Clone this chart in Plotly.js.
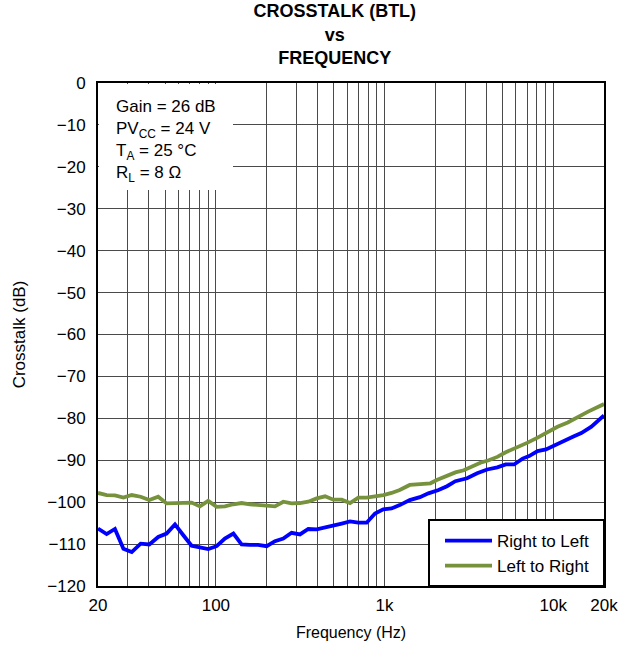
<!DOCTYPE html>
<html>
<head>
<meta charset="utf-8">
<script src="https://cdn.plot.ly/plotly-3.0.1.min.js"></script>
<style>html,body{margin:0;padding:0;background:#fff;}#chart{width:623px;height:646px;}</style>
</head>
<body>
<div id="chart"></div>
<script>
// Right to Left (blue)
const freqRL = [20, 22.5, 25.2, 28.3, 31.7, 35.8, 40.3, 45.5, 51, 57.2, 64.1, 71.8, 80.4, 90, 101, 113, 127, 142, 159, 178, 200, 224, 251, 281, 315, 353, 396, 444, 497, 557, 624, 699, 783, 878, 983, 1100, 1230, 1410, 1620, 1820, 2090, 2345, 2630, 3085, 3540, 4060, 4660, 5230, 5860, 6580, 7200, 8080, 9060, 10160, 11400, 13080, 14670, 16840, 20000];
const crosstalkRL = [-106.3, -107.6, -106.4, -111.1, -111.9, -109.9, -110.1, -108.3, -107.5, -105.3, -107.9, -110.4, -110.8, -111.2, -110.5, -108.7, -107.5, -110.1, -110.2, -110.2, -110.5, -109.3, -108.7, -107.3, -107.7, -106.4, -106.5, -106.1, -105.5, -105.1, -104.6, -104.9, -104.9, -102.7, -101.7, -101.5, -100.7, -99.5, -98.8, -97.9, -97.1, -96.2, -95.0, -94.3, -93.1, -92.2, -91.7, -91.0, -91.0, -89.6, -89.0, -87.8, -87.4, -86.4, -85.4, -84.4, -83.5, -82.0, -79.3];

// Left to Right (green)
const freqLR = [20, 22.5, 25.2, 28.3, 31.7, 35.8, 40.3, 45.5, 51, 57.2, 64.1, 71.8, 80.4, 90, 101, 113, 127, 142, 159, 178, 200, 224, 251, 281, 315, 353, 396, 444, 497, 557, 624, 699, 783, 878, 983, 1100, 1230, 1410, 1620, 1870, 2040, 2345, 2630, 2950, 3300, 3700, 4150, 4660, 5230, 6100, 7050, 8080, 9230, 10600, 12200, 14000, 16100, 20000];
const crosstalkLR = [-97.8, -98.3, -98.4, -98.9, -98.3, -98.7, -99.5, -98.7, -100.3, -100.3, -100.2, -100.1, -101.0, -99.7, -101.1, -101.0, -100.5, -100.2, -100.5, -100.7, -101.0, -101.0, -99.9, -100.3, -100.2, -99.9, -99.1, -98.6, -99.4, -99.4, -100.2, -98.9, -98.9, -98.7, -98.3, -97.8, -97.1, -95.9, -95.7, -95.5, -94.7, -93.6, -92.9, -92.4, -91.4, -90.6, -90.0, -89.2, -88.1, -87.0, -85.8, -84.6, -83.4, -82.0, -81.0, -79.6, -78.4, -76.6];

const seriesNames = ["Right to Left", "Left to Right"];

// x tick labels and grid positions
const xTickVals = [20, 100, 1000, 10000, 20000];
const xTickText = ["20", "100", "1k", "10k", "20k"];
const xGridVals = [30, 40, 50, 60, 70, 80, 90, 200, 300, 400, 500, 600, 700, 800, 900, 2000, 3000, 4000, 5000, 6000, 7000, 8000, 9000];

const conditionsText = "Gain = 26 dB<br>PV<sub>CC</sub> = 24 V<br>T<sub>A</sub> = 25 °C<br>R<sub>L</sub> = 8 Ω";

const FONT = "Liberation Sans, Arial, sans-serif";
const GRID = "#4a4a4a";

const traces = [
  {x: freqRL, y: crosstalkRL, name: seriesNames[0], type: "scatter", mode: "lines",
   line: {color: "#0000FF", width: 3.8}},
  {x: freqLR, y: crosstalkLR, name: seriesNames[1], type: "scatter", mode: "lines",
   line: {color: "#76923C", width: 3.8}}
];

const layout = {
  width: 623, height: 646,
  margin: {l: 98, r: 19, t: 83, b: 60},
  paper_bgcolor: "#fff", plot_bgcolor: "#fff",
  font: {family: FONT, color: "#000", size: 16},
  title: {
    text: "<b>CROSSTALK (BTL)</b><br><b>vs</b><br><b>FREQUENCY</b>",
    font: {family: FONT, size: 18, color: "#000"},
    x: 0.468, xanchor: "center", xref: "paper",
    y: 0.973, yanchor: "top", yref: "container"
  },
  xaxis: {
    type: "log",
    range: [Math.log10(20), Math.log10(20000)],
    tickmode: "array", tickvals: xTickVals, ticktext: xTickText,
    ticks: "", showgrid: true, gridcolor: GRID, gridwidth: 1,
    minor: {tickmode: "array", tickvals: xGridVals, showgrid: true, gridcolor: GRID, gridwidth: 1, ticks: ""},
    showline: true, mirror: true, linecolor: "#000", linewidth: 2,
    zeroline: false,
    tickfont: {size: 17},
    ticklabelstandoff: 3,
    title: {text: "Frequency (Hz)", font: {size: 16}, standoff: 12},
    automargin: false
  },
  yaxis: {
    range: [-120, 0], dtick: 10, tick0: 0,
    ticks: "", showgrid: true, gridcolor: GRID, gridwidth: 1,
    showline: true, mirror: true, linecolor: "#000", linewidth: 2,
    zeroline: false,
    tickfont: {size: 17},
    ticklabelstandoff: 7,
    title: {text: "Crosstalk (dB)", font: {size: 17}, standoff: 17},
    automargin: false
  },
  showlegend: true,
  legend: {
    x: (440 - 98) / 506, xanchor: "left", y: (586 - 523) / 503, yanchor: "top",
    bgcolor: "rgba(0,0,0,0)", borderwidth: 0,
    font: {size: 17}, itemwidth: 47, tracegroupgap: 0
  },
  shapes: [
    // legend frame
    {type: "rect", xref: "paper", yref: "paper", x0: (429 - 98) / 506, x1: 1, y0: 0, y1: (586 - 520) / 503,
     fillcolor: "#fff", line: {width: 2, color: "#000"}, layer: "above"}
  ],
  annotations: [
    // white panel behind the test conditions
    {xref: "paper", yref: "paper", x: 0, y: 1, xanchor: "left", yanchor: "top",
     xshift: 1, yshift: -1, width: 134, height: 106, borderpad: 0, borderwidth: 0,
     bgcolor: "#fff", text: " ", showarrow: false},
    {xref: "paper", yref: "paper", x: 0, y: 1, xanchor: "left", yanchor: "top",
     xshift: 16, yshift: -12, align: "left", showarrow: false,
     text: conditionsText, font: {size: 17, family: FONT, color: "#000"}}
  ]
};

Plotly.newPlot("chart", traces, layout, {displayModeBar: false, staticPlot: true});
</script>
</body>
</html>
